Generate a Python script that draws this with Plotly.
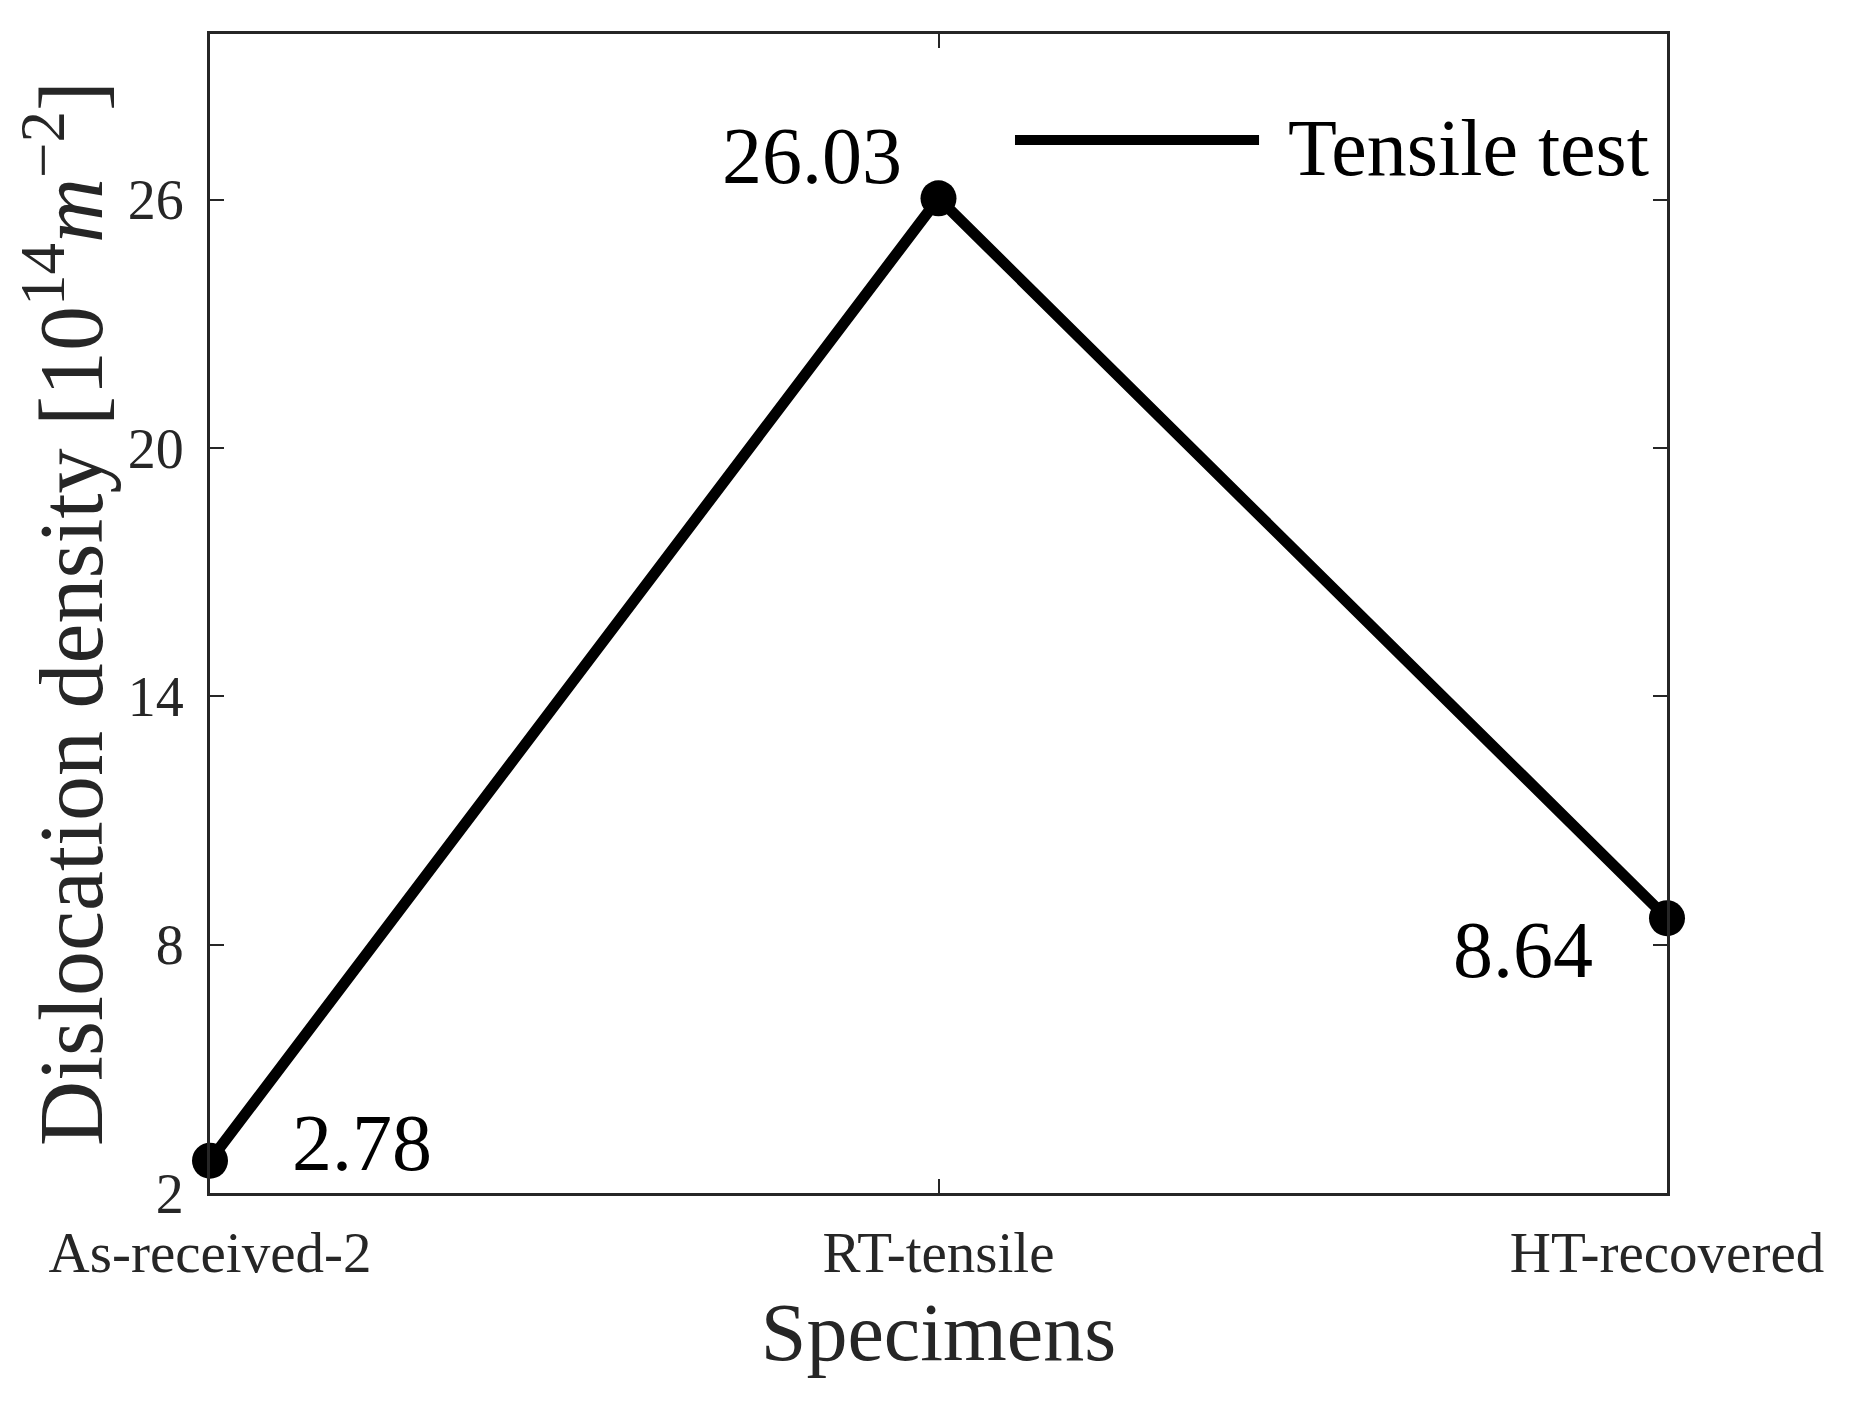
import plotly.graph_objects as go

# Dislocation density of the specimens (10^14 m^-2)
specimens = ["As-received-2", "RT-tensile", "HT-recovered"]
density = [2.78, 26.03, 8.64]
labels = ["2.78", "26.03", "8.64"]
y_ticks = [2, 8, 14, 20, 26]
series_name = "Tensile test"

font_family = "Liberation Serif"

trace = go.Scatter(
    x=specimens,
    y=density,
    mode="lines+markers",
    name=series_name,
    line=dict(color="black", width=11),
    marker=dict(color="black", size=36),
    cliponaxis=False,
    showlegend=False,
)

# value labels next to each point
label_shift = [(152, 18), (-127, 42), (-144, -32)]
annotations = []
for sp, val, txt, (dx, dy) in zip(specimens, density, labels, label_shift):
    annotations.append(dict(x=sp, y=val, text=txt, showarrow=False,
                            xshift=dx, yshift=dy,
                            font=dict(family=font_family, size=80, color="black")))

# legend drawn by hand so the line sample is long, like the original
annotations.append(dict(xref="paper", yref="paper", x=0.7385, y=0.9016,
                        xanchor="left", yanchor="middle", text=series_name,
                        showarrow=False,
                        font=dict(family=font_family, size=80, color="black")))
shapes = [dict(type="line", xref="paper", yref="paper",
               x0=0.5525, x1=0.72, y0=0.9085, y1=0.9085,
               line=dict(color="black", width=10))]

# page body adds an 8px offset, so margins are trimmed on left/top
layout = dict(
    width=1862, height=1404,
    margin=dict(l=202, r=203, t=26, b=219),
    paper_bgcolor="white", plot_bgcolor="white",
    font=dict(family=font_family, color="#262626"),
    xaxis=dict(
        title=dict(text="Specimens", font=dict(size=82, color="#262626"), standoff=20),
        range=[0, 2], showgrid=False, zeroline=False, automargin=False,
        showline=True, linewidth=3, linecolor="#262626", mirror="allticks",
        ticks="inside", ticklen=14, tickwidth=2, tickcolor="#262626",
        tickfont=dict(size=57, color="#262626"), ticklabelstandoff=8,
    ),
    yaxis=dict(
        title=dict(text="Dislocation density [10<sup>14</sup><i>m</i><sup>−2</sup>]",
                   font=dict(size=90, color="#262626"), standoff=6),
        range=[2, 30], tickvals=y_ticks, showgrid=False, zeroline=False, automargin=False,
        showline=True, linewidth=3, linecolor="#262626", mirror="allticks",
        ticks="inside", ticklen=14, tickwidth=2, tickcolor="#262626",
        tickfont=dict(size=56, color="#262626"), ticklabelstandoff=12,
    ),
    annotations=annotations,
    shapes=shapes,
)

fig = go.Figure(data=[trace], layout=layout)
fig.write_html("out.html")
